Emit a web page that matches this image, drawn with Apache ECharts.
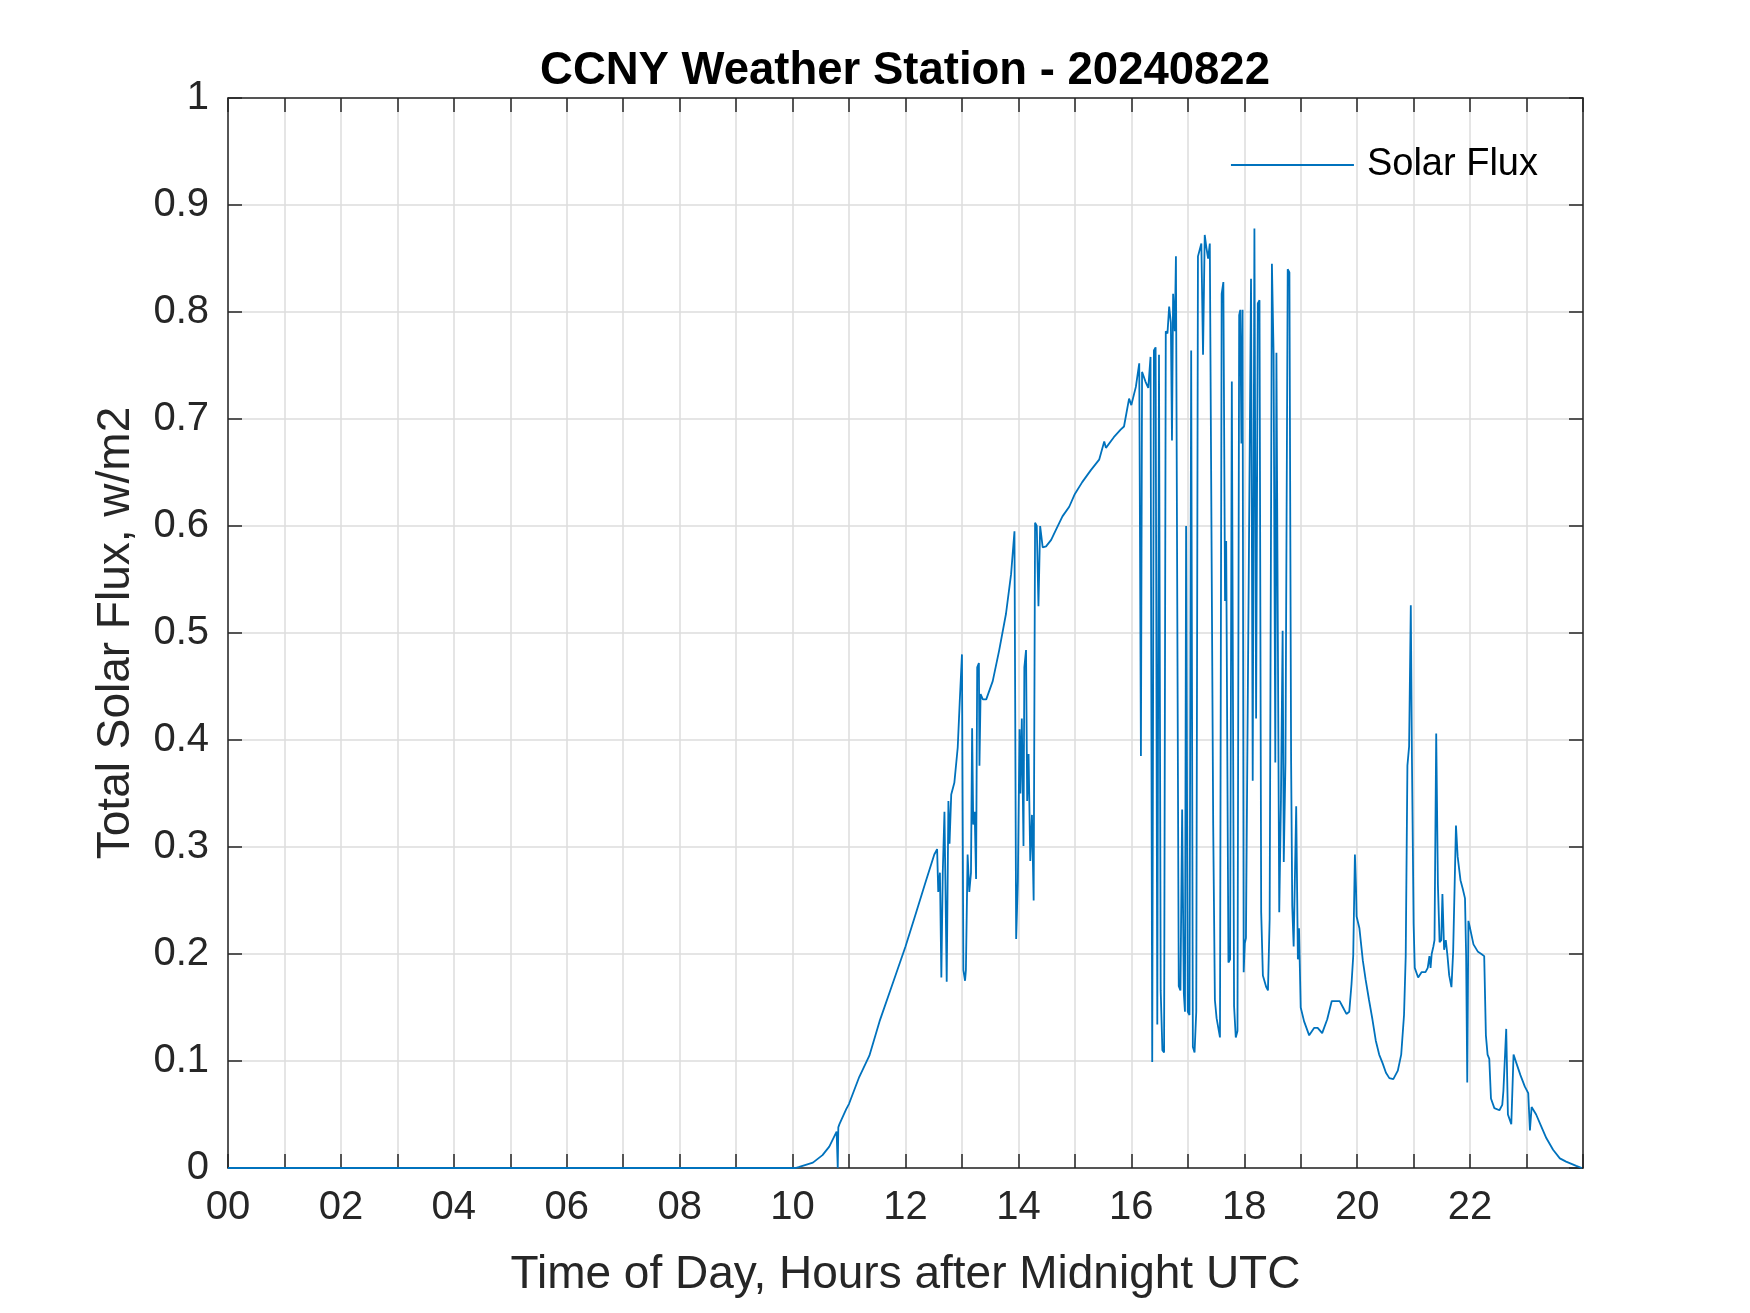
<!DOCTYPE html>
<html>
<head>
<meta charset="utf-8">
<title>CCNY Weather Station - 20240822</title>
<script src="https://cdn.jsdelivr.net/npm/echarts@6/dist/echarts.min.js"></script>
<style>
  html, body { margin: 0; padding: 0; background: #fff; }
  #main { width: 1750px; height: 1313px; }
</style>
</head>
<body>
<div id="main"></div>
<script>
// [hour after midnight UTC, total solar flux w/m2]
const night = [
  [0, 0], [10.05, 0], [10.12, 0.001], [10.36, 0.005], [10.53, 0.012], [10.65, 0.02],
  [10.78, 0.034], [10.8, 0], [10.81, 0.038], [10.83, 0.041], [10.95, 0.055], [11.0, 0.06]
];
const morning = [
  [11.18, 0.085], [11.36, 0.105], [11.54, 0.137], [11.77, 0.172], [12.0, 0.207], [12.19, 0.239],
  [12.36, 0.268], [12.51, 0.293], [12.56, 0.298], [12.58, 0.258], [12.61, 0.276], [12.635, 0.178],
  [12.66, 0.276], [12.69, 0.333], [12.73, 0.174], [12.76, 0.343], [12.78, 0.303], [12.81, 0.349],
  [12.865, 0.36], [12.925, 0.393], [12.96, 0.435], [13.0, 0.48], [13.025, 0.185], [13.055, 0.175],
  [13.07, 0.185], [13.1, 0.293], [13.13, 0.258], [13.16, 0.276], [13.18, 0.411], [13.2, 0.321],
  [13.225, 0.333], [13.25, 0.27], [13.27, 0.468], [13.3, 0.472], [13.31, 0.376], [13.33, 0.443],
  [13.37, 0.438], [13.43, 0.438], [13.545, 0.455], [13.66, 0.484], [13.78, 0.518], [13.87, 0.555],
  [13.93, 0.595], [13.96, 0.214], [13.99, 0.268], [14.02, 0.41], [14.035, 0.35], [14.06, 0.42],
  [14.09, 0.301], [14.105, 0.468], [14.135, 0.484], [14.155, 0.343], [14.18, 0.387], [14.21, 0.287],
  [14.24, 0.33], [14.27, 0.25], [14.295, 0.603], [14.325, 0.6], [14.355, 0.525], [14.385, 0.6],
  [14.43, 0.58], [14.49, 0.581], [14.58, 0.587], [14.66, 0.596], [14.78, 0.609], [14.9, 0.618],
  [15.0, 0.63], [15.13, 0.641], [15.28, 0.652], [15.43, 0.662], [15.52, 0.679], [15.55, 0.673],
  [15.69, 0.683], [15.81, 0.69], [15.87, 0.693], [15.96, 0.719], [16.0, 0.713], [16.08, 0.73]
];
const midday = [
  [16.14, 0.752], [16.17, 0.385], [16.19, 0.744], [16.25, 0.735], [16.3, 0.729], [16.34, 0.758],
  [16.37, 0.099], [16.4, 0.764], [16.43, 0.767], [16.46, 0.134], [16.49, 0.76], [16.52, 0.166],
  [16.55, 0.11], [16.58, 0.108], [16.61, 0.782], [16.64, 0.78], [16.67, 0.805], [16.7, 0.79],
  [16.72, 0.68], [16.74, 0.817], [16.77, 0.782], [16.79, 0.852], [16.84, 0.17], [16.87, 0.166],
  [16.9, 0.335], [16.93, 0.163], [16.95, 0.146], [16.97, 0.6], [17.0, 0.146], [17.03, 0.143],
  [17.06, 0.764], [17.09, 0.113], [17.12, 0.108], [17.15, 0.146], [17.18, 0.852], [17.21, 0.858],
  [17.24, 0.864], [17.27, 0.76], [17.3, 0.872], [17.33, 0.86], [17.36, 0.85], [17.39, 0.864],
  [17.42, 0.863], [17.45, 0.32], [17.48, 0.157], [17.51, 0.14], [17.57, 0.122], [17.6, 0.817],
  [17.63, 0.828], [17.66, 0.53], [17.68, 0.586], [17.72, 0.192], [17.75, 0.195], [17.78, 0.735],
  [17.82, 0.151], [17.85, 0.122], [17.88, 0.128], [17.91, 0.797], [17.93, 0.802], [17.95, 0.677],
  [17.97, 0.802], [17.99, 0.183], [18.01, 0.21], [18.03, 0.215], [18.12, 0.831], [18.15, 0.362],
  [18.18, 0.878], [18.21, 0.42], [18.24, 0.808], [18.27, 0.811], [18.3, 0.239], [18.33, 0.18],
  [18.39, 0.169], [18.42, 0.166], [18.45, 0.233], [18.49, 0.845], [18.52, 0.76], [18.55, 0.379],
  [18.57, 0.762], [18.62, 0.239], [18.65, 0.344], [18.68, 0.502], [18.7, 0.286], [18.73, 0.38],
  [18.77, 0.84], [18.8, 0.837], [18.83, 0.38], [18.85, 0.245], [18.875, 0.207], [18.92, 0.338],
  [18.95, 0.195], [18.97, 0.224]
];
const afternoon = [
  [19.0, 0.15], [19.06, 0.137], [19.15, 0.124], [19.24, 0.131], [19.3, 0.131], [19.38, 0.126],
  [19.47, 0.139], [19.55, 0.156], [19.62, 0.156], [19.69, 0.156], [19.75, 0.15], [19.81, 0.144],
  [19.86, 0.146], [19.9, 0.172], [19.93, 0.198], [19.96, 0.293], [19.98, 0.261], [19.99, 0.235],
  [20.04, 0.224], [20.1, 0.194], [20.15, 0.176], [20.21, 0.157], [20.27, 0.139], [20.33, 0.119],
  [20.39, 0.106], [20.45, 0.098], [20.51, 0.089], [20.57, 0.084], [20.64, 0.083], [20.72, 0.091],
  [20.78, 0.106], [20.83, 0.143], [20.86, 0.198], [20.89, 0.376], [20.92, 0.394], [20.95, 0.526],
  [20.97, 0.383], [21.0, 0.228], [21.02, 0.187], [21.08, 0.178], [21.14, 0.183], [21.21, 0.183]
];
const evening = [
  [21.25, 0.187], [21.28, 0.198], [21.3, 0.187], [21.32, 0.2], [21.35, 0.207], [21.37, 0.213],
  [21.4, 0.406], [21.43, 0.265], [21.46, 0.211], [21.49, 0.213], [21.51, 0.256], [21.54, 0.204],
  [21.57, 0.213], [21.6, 0.198], [21.63, 0.18], [21.67, 0.169], [21.7, 0.202], [21.75, 0.32],
  [21.78, 0.291], [21.83, 0.269], [21.87, 0.261], [21.91, 0.252], [21.93, 0.198], [21.95, 0.08],
  [21.97, 0.231], [22.0, 0.224], [22.06, 0.209], [22.14, 0.202], [22.2, 0.2], [22.25, 0.198],
  [22.28, 0.124], [22.31, 0.106], [22.34, 0.102], [22.37, 0.065], [22.43, 0.056], [22.52, 0.054],
  [22.57, 0.059], [22.59, 0.072], [22.64, 0.13], [22.67, 0.05], [22.73, 0.041], [22.77, 0.106],
  [22.82, 0.098], [22.89, 0.087], [22.97, 0.076], [23.03, 0.07], [23.06, 0.035], [23.09, 0.057],
  [23.17, 0.05], [23.26, 0.039], [23.35, 0.028], [23.47, 0.017], [23.59, 0.009], [23.7, 0.006],
  [23.88, 0.002], [23.98, 0]
];

const hourTicks = ['00', '02', '04', '06', '08', '10', '12', '14', '16', '18', '20', '22'];

const solarFlux = [].concat(night, morning, midday, afternoon, evening);

const FONT = '"Liberation Sans", Arial, Helvetica, sans-serif';
const AXIS_COLOR = '#262626';
const GRID_COLOR = '#dcdcdc';

var mychart = echarts.init(document.getElementById('main'));

function hourLabel(v) {
  let i = Math.round(v);
  if (i % 2 !== 0) return '';
  return hourTicks[i / 2] || '';
}

function fluxLabel(v) {
  return String(parseFloat(v.toFixed(1)));
}

// MATLAB style box: mirrored axes on top and right, ticks pointing inward
const boxAxis = {
  axisLine: { show: true, onZero: false, lineStyle: { color: AXIS_COLOR, width: 1.5 } },
  axisTick: { show: true, inside: true, length: 14, lineStyle: { color: AXIS_COLOR, width: 1.5 } },
  axisLabel: { show: false },
  splitLine: { show: false }
};

const option = {
  animation: false,
  backgroundColor: '#ffffff',
  title: {
    text: 'CCNY Weather Station - 20240822',
    left: 900,
    top: 43,
    textAlign: 'center',
    textStyle: { fontFamily: FONT, fontSize: 45.5, fontWeight: 'bold', color: '#000' }
  },
  legend: {
    data: ['Solar Flux'],
    right: 207,
    top: 141,
    icon: 'rect',
    itemWidth: 123,
    itemHeight: 2,
    itemGap: 10,
    textStyle: { fontFamily: FONT, fontSize: 38, color: '#000', padding: [0, 0, 0, 8] }
  },
  grid: {
    left: 228,
    right: 167,
    top: 98,
    bottom: 145,
    containLabel: false
  },
  xAxis: [{
    type: 'value',
    min: 0,
    max: 24,
    interval: 1,
    name: 'Time of Day, Hours after Midnight UTC',
    nameLocation: 'middle',
    nameGap: 84,
    nameTextStyle: { fontFamily: FONT, fontSize: 46, color: AXIS_COLOR },
    axisLine: { show: true, onZero: false, lineStyle: { color: AXIS_COLOR, width: 1.5 } },
    axisTick: { show: true, inside: true, length: 14, lineStyle: { color: AXIS_COLOR, width: 1.5 } },
    axisLabel: {
      fontFamily: FONT, fontSize: 40, color: AXIS_COLOR, margin: 20,
      formatter: hourLabel
    },
    splitLine: { show: true, lineStyle: { color: GRID_COLOR, width: 1.5 } }
  }, Object.assign({
    type: 'value', position: 'top', min: 0, max: 24, interval: 1
  }, boxAxis)],
  yAxis: [{
    type: 'value',
    min: 0,
    max: 1,
    interval: 0.1,
    name: 'Total Solar Flux, w/m2',
    nameLocation: 'middle',
    nameGap: 89,
    nameTextStyle: { fontFamily: FONT, fontSize: 46, color: AXIS_COLOR },
    axisLine: { show: true, onZero: false, lineStyle: { color: AXIS_COLOR, width: 1.5 } },
    axisTick: { show: true, inside: true, length: 14, lineStyle: { color: AXIS_COLOR, width: 1.5 } },
    axisLabel: {
      fontFamily: FONT, fontSize: 40, color: AXIS_COLOR, margin: 19,
      formatter: fluxLabel
    },
    splitLine: { show: true, lineStyle: { color: GRID_COLOR, width: 1.5 } }
  }, Object.assign({
    type: 'value', position: 'right', min: 0, max: 1, interval: 0.1
  }, boxAxis)],
  series: [
    {
      name: 'Solar Flux',
      type: 'line',
      xAxisIndex: 0,
      yAxisIndex: 0,
      showSymbol: false,
      symbol: 'none',
      clip: true,
      color: '#0072BD',
      lineStyle: { color: '#0072BD', width: 1.8 },
      data: solarFlux
    }
  ]
};
mychart.setOption(option);
</script>
</body>
</html>
